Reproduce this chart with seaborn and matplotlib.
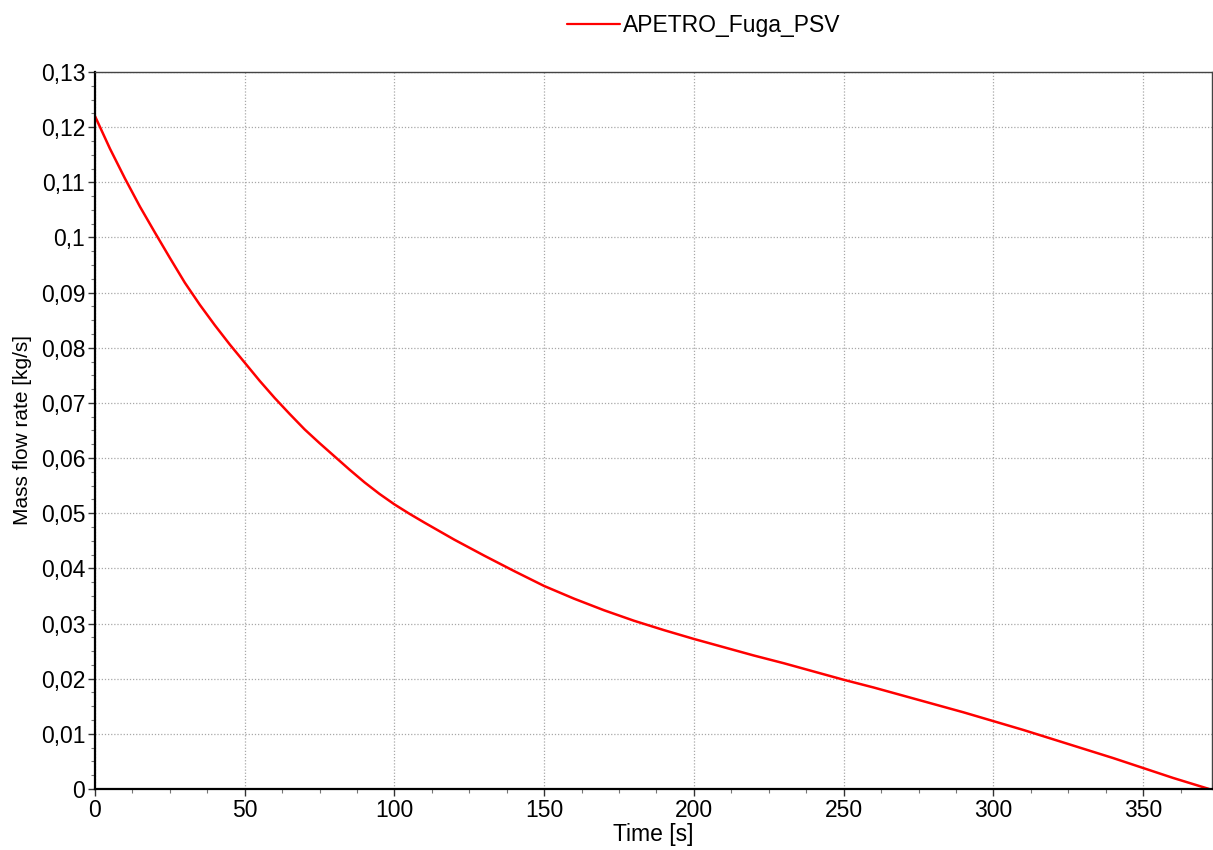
import matplotlib
matplotlib.use("Agg")
import matplotlib.pyplot as plt
import seaborn as sns
import pandas as pd
from matplotlib.ticker import MultipleLocator

time_s = [0, 5, 10, 15, 20, 25, 30, 35, 40, 45, 50, 55, 60, 65, 70, 75, 80,
          85, 90, 95, 100, 105, 110, 120, 130, 140, 150, 160, 170, 180, 190,
          200, 210, 220, 230, 240, 250, 260, 270, 280, 290, 300, 310, 320,
          330, 340, 350, 360, 372]
mass_flow = [0.1220, 0.1161, 0.1107, 0.1056, 0.1009, 0.0963, 0.0918, 0.0878,
             0.0841, 0.0806, 0.0773, 0.0740, 0.0709, 0.0680, 0.0652, 0.0627,
             0.0603, 0.0579, 0.0556, 0.0535, 0.0516, 0.0499, 0.0483, 0.0452,
             0.0423, 0.0395, 0.0368, 0.0345, 0.0324, 0.0305, 0.0288, 0.0272,
             0.0257, 0.0242, 0.0228, 0.0213, 0.0198, 0.0184, 0.0169, 0.0154,
             0.0139, 0.0123, 0.0107, 0.0090, 0.0073, 0.0056, 0.0038, 0.0020,
             0.0]
series_name = "APETRO_Fuga_PSV"

x_ticks = [0, 50, 100, 150, 200, 250, 300, 350]
x_tick_labels = ["0", "50", "100", "150", "200", "250", "300", "350"]
y_ticks = [0, 0.01, 0.02, 0.03, 0.04, 0.05, 0.06, 0.07, 0.08, 0.09, 0.10,
           0.11, 0.12, 0.13]
y_tick_labels = ["0", "0,01", "0,02", "0,03", "0,04", "0,05", "0,06", "0,07",
                 "0,08", "0,09", "0,1", "0,11", "0,12", "0,13"]

sns.set_style("white")
plt.rcParams["font.family"] = ["Liberation Sans", "DejaVu Sans"]

df = pd.DataFrame({"Time": time_s, "Flow": mass_flow, "Series": series_name})

fig = plt.figure(figsize=(12.13, 8.5), dpi=100)
ax = fig.add_axes([0.0783, 0.0718, 0.9209, 0.8435])

sns.lineplot(data=df, x="Time", y="Flow", hue="Series", palette=["#ff0000"],
             linewidth=1.8, ax=ax, legend=False)

ax.set_xlim(0, 373)
ax.set_ylim(0, 0.13)
ax.set_xticks(x_ticks)
ax.set_xticklabels(x_tick_labels)
ax.set_yticks(y_ticks)
ax.set_yticklabels(y_tick_labels)
ax.xaxis.set_minor_locator(MultipleLocator(12.5))
ax.yaxis.set_minor_locator(MultipleLocator(0.0025))

ax.tick_params(axis="both", which="major", direction="out", length=5,
               width=1, color="#333333", labelsize=16.5, pad=2, left=True,
               bottom=True, labelcolor="black")
ax.tick_params(axis="both", which="minor", direction="out", length=3,
               width=0.8, color="#777777", left=True, bottom=True)

ax.grid(True, which="major", color="#a8a8a8", linestyle=(0, (1, 1.5)),
        linewidth=0.9)

for side in ["left", "bottom"]:
    ax.spines[side].set_color("black")
    ax.spines[side].set_linewidth(1.6)
ax.spines["top"].set_color("#444444")
ax.spines["top"].set_linewidth(1.0)
ax.spines["right"].set_color("#444444")
ax.spines["right"].set_linewidth(1.0)

ax.set_xlabel("Time [s]", fontsize=16.5, labelpad=1, color="black")
ax.set_ylabel("Mass flow rate [kg/s]", fontsize=15, labelpad=6, color="black")

handle = plt.Line2D([], [], color="#ff0000", linewidth=1.6)
fig.legend([handle], [series_name], loc="upper center",
           bbox_to_anchor=(0.5804, 1.0), frameon=False, fontsize=16.5,
           handlelength=2.3, handletextpad=0.15, borderaxespad=0.2,
           labelcolor="black")

fig.savefig("out.png", dpi=100, facecolor="white")
